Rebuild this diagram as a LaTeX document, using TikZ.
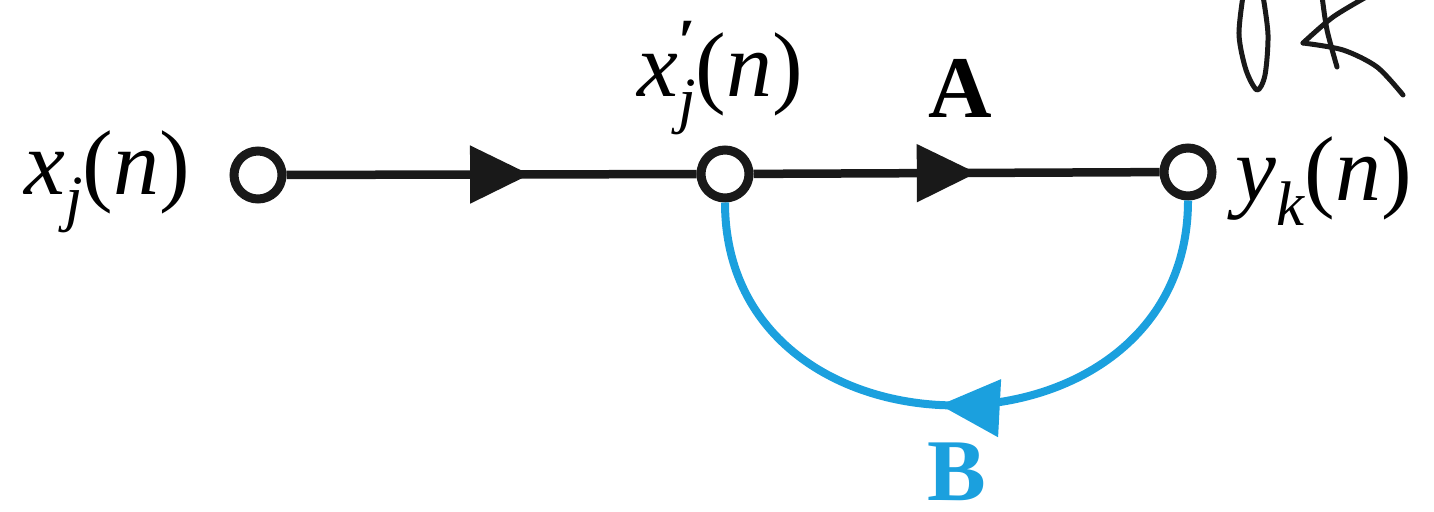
\documentclass[tikz,border=0pt]{standalone}
\usepackage{fontspec}
\setmainfont{Liberation Serif}[ItalicFont={Liberation Serif Italic},BoldFont={Liberation Serif Bold}]
\usetikzlibrary{arrows.meta,decorations.markings}
\definecolor{fgblue}{RGB}{27,160,222}
\definecolor{ink}{RGB}{25,25,25}
\newcommand{\subf}{\fontsize{63}{63}\selectfont}
\begin{document}
\begin{tikzpicture}[x=1pt,y=-1pt,
  sig/.style={circle,draw=ink,fill=white,line width=9pt,minimum size=48pt,inner sep=0pt},
  lbl/.style={inner sep=0pt,font=\fontsize{92}{92}\selectfont},
  blbl/.style={inner sep=0pt,font=\fontsize{88}{88}\selectfont\bfseries},
  branch/.style={draw=ink,line width=8.5pt},
  fbranch/.style={draw=fgblue,line width=8pt},
  midarrow/.style={postaction={decorate},decoration={markings,mark=at position #1 with {\arrow{Triangle[length=60pt,width=56pt]}}}},
  scrib/.style={draw=ink,line width=5pt,line cap=round,line join=round}
]
\useasboundingbox (0,0) rectangle (1434,511);
\node[sig] (a) at (258,175) {};
\node[sig] (m) at (725,174) {};
\node[sig] (r) at (1188,172) {};
\draw[branch,midarrow=0.594] (a) -- (m);
\draw[branch,midarrow=0.55] (m) -- (r);
\draw[fbranch,midarrow=0.525,color=fgblue] (r) to[out=-90,in=-90,looseness=1.5] (m);
\node[lbl,anchor=base east] (la) at (190,194) {\textit{x}\raisebox{-0.28em}{\subf\textit{j}}(\textit{n})};
\node[lbl,anchor=base] (lm) at (720,96) {\textit{x}\rlap{\raisebox{0.36em}{\subf\textbf{\char"2032}}}\raisebox{-0.28em}{\subf\textit{j}}(\textit{n})};
\node[lbl,anchor=base west] (lr) at (1235,200) {\textit{y}\raisebox{-0.28em}{\subf\textit{k}}(\textit{n})};
\node[blbl,anchor=base] (lA) at (960,117) {A};
\node[blbl,anchor=base,text=fgblue] (lB) at (957,500) {B};
\draw[scrib] plot[smooth] coordinates {(1243,-4) (1239,35) (1246,70) (1257,90) (1265,75) (1268,35) (1263,-4)};
\draw[scrib] plot[smooth] coordinates {(1322,-4) (1327,30) (1337,67)};
\draw[scrib] plot[smooth] coordinates {(1368,-4) (1333,17) (1303,43)};
\draw[scrib] plot[smooth] coordinates {(1303,43) (1343,50) (1377,67) (1403,95)};
\end{tikzpicture}
\end{document}
